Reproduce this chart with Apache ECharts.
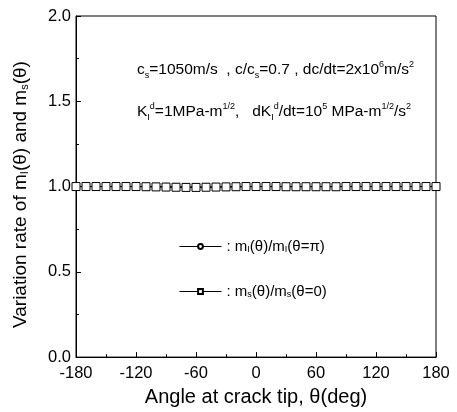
<!DOCTYPE html>
<html><head><meta charset="utf-8">
<script src="https://cdn.jsdelivr.net/npm/echarts@6/dist/echarts.min.js"></script>
<style>html,body{margin:0;padding:0;background:#fff}#c{width:457px;height:412px}</style>
</head><body><div id="c"></div>
<script>
var angles = [-180,-170,-160,-150,-140,-130,-120,-110,-100,-90,-80,-70,-60,-50,-40,-30,-20,-10,0,10,20,30,40,50,60,70,80,90,100,110,120,130,140,150,160,170,180];
var mIratio = [1.000,1.000,1.000,1.000,1.000,1.000,1.000,1.000,0.999,0.999,0.998,0.998,0.997,0.997,0.997,0.998,0.998,0.999,1.000,1.000,1.000,1.000,1.000,1.000,1.000,1.000,1.000,1.000,1.000,1.000,1.000,1.000,1.000,1.000,1.000,1.000,1.000];
var mSratio = [1.000,1.000,1.000,1.000,1.000,1.000,1.000,0.999,0.998,0.997,0.996,0.995,0.995,0.996,0.997,0.998,0.999,1.000,1.000,1.000,1.000,0.999,0.999,0.999,0.999,0.999,0.999,1.000,1.000,1.000,1.000,1.000,1.000,1.000,1.000,1.000,1.000];
var xTicks = [-180,-120,-60,0,60,120,180];
var yTicks = [0.0,0.5,1.0,1.5,2.0];

var FONT = 'Liberation Sans, Arial, sans-serif';
var subRich = {
  sub: {fontSize: 9, verticalAlign: 'bottom', lineHeight: 10, fontFamily: FONT, color: '#000'},
  sup: {fontSize: 9, verticalAlign: 'top', lineHeight: 10, fontFamily: FONT, color: '#000'},
  b: {fontSize: 15.5, fontFamily: FONT, color: '#000', lineHeight: 20}
};
function pairs(arr) { return angles.map(function (a, i) { return [a, arr[i]]; }); }

var chart = echarts.init(document.getElementById('c'), null, {renderer: 'canvas'});
chart.setOption({
  animation: false,
  backgroundColor: '#fff',
  grid: {left: 76, right: 21, top: 16, bottom: 49, show: true, borderColor: '#000', borderWidth: 1, backgroundColor: 'transparent'},
  xAxis: {
    type: 'value', min: -180, max: 180, interval: 60,
    name: 'Angle at crack tip, θ(deg)', nameLocation: 'middle', nameGap: 29,
    nameTextStyle: {fontSize: 20, fontFamily: FONT, color: '#000'},
    axisLine: {show: true, onZero: false, lineStyle: {color: '#000', width: 1}},
    axisTick: {show: true, inside: true, length: 5, lineStyle: {color: '#000'}},
    minorTick: {show: true, splitNumber: 2, length: 3, lineStyle: {color: '#000'}},
    axisLabel: {fontSize: 16.5, fontFamily: FONT, color: '#000', margin: 8,
      formatter: function (v) { return xTicks.indexOf(v) >= 0 ? String(v) : ''; }},
    splitLine: {show: false}
  },
  yAxis: {
    type: 'value', min: 0, max: 2, interval: 0.5,
    name: 'Variation rate of m{s|I}(θ) and m{s|s}(θ)', nameLocation: 'middle', nameGap: 46,
    nameTextStyle: {fontSize: 19, fontFamily: FONT, color: '#000', padding: [0, 16, 0, 0],
      rich: {s: {fontSize: 11, verticalAlign: 'bottom', lineHeight: 11, fontFamily: FONT, color: '#000'}}},
    axisLine: {show: true, onZero: false, lineStyle: {color: '#000', width: 1}},
    axisTick: {show: true, inside: true, length: 5, lineStyle: {color: '#000'}},
    minorTick: {show: true, splitNumber: 2, length: 3, lineStyle: {color: '#000'}},
    axisLabel: {fontSize: 16.5, fontFamily: FONT, color: '#000', margin: 5,
      formatter: function (v) { return yTicks.indexOf(v) >= 0 ? v.toFixed(1) : ''; }},
    splitLine: {show: false}
  },
  legend: {
    orient: 'vertical', left: 174, top: 234, itemWidth: 42, itemHeight: 6, itemGap: 30,
    data: ['I', 'S'],
    lineStyle: {width: 1, color: '#000'},
    formatter: function (n) {
      return n === 'I' ? ': m{sub|I}(θ)/m{sub|I}(θ=π)' : ': m{sub|s}(θ)/m{sub|s}(θ=0)';
    },
    textStyle: {fontSize: 15, fontFamily: FONT, color: '#000', rich: subRich}
  },
  graphic: [
    {type: 'text', left: 137, top: 60, style: {
      text: '{b|c}{sub|s}{b|=1050m/s  , c/c}{sub|s}{b|=0.7 , dc/dt=2x10}{sup|6}{b|m/s}{sup|2}',
      rich: subRich, font: '15px ' + FONT}},
    {type: 'text', left: 137, top: 102, style: {
      text: '{b|K}{sub|I}{sup|d}{b|=1MPa-m}{sup|1/2}{b|,   dK}{sub|I}{sup|d}{b|/dt=10}{sup|5}{b| MPa-m}{sup|1/2}{b|/s}{sup|2}',
      rich: subRich, font: '15px ' + FONT}}
  ],
  series: [
    {name: 'I', type: 'line', data: pairs(mIratio), symbol: 'circle', symbolSize: 7, showAllSymbol: true,
      lineStyle: {color: '#000', width: 1}, itemStyle: {color: '#fff', borderColor: '#000', borderWidth: 1}, z: 2},
    {name: 'S', type: 'line', data: pairs(mSratio), symbol: 'rect', symbolSize: 8, showAllSymbol: true,
      lineStyle: {color: '#000', width: 1}, itemStyle: {color: '#fff', borderColor: '#000', borderWidth: 1}, z: 3}
  ]
});
</script></body></html>
